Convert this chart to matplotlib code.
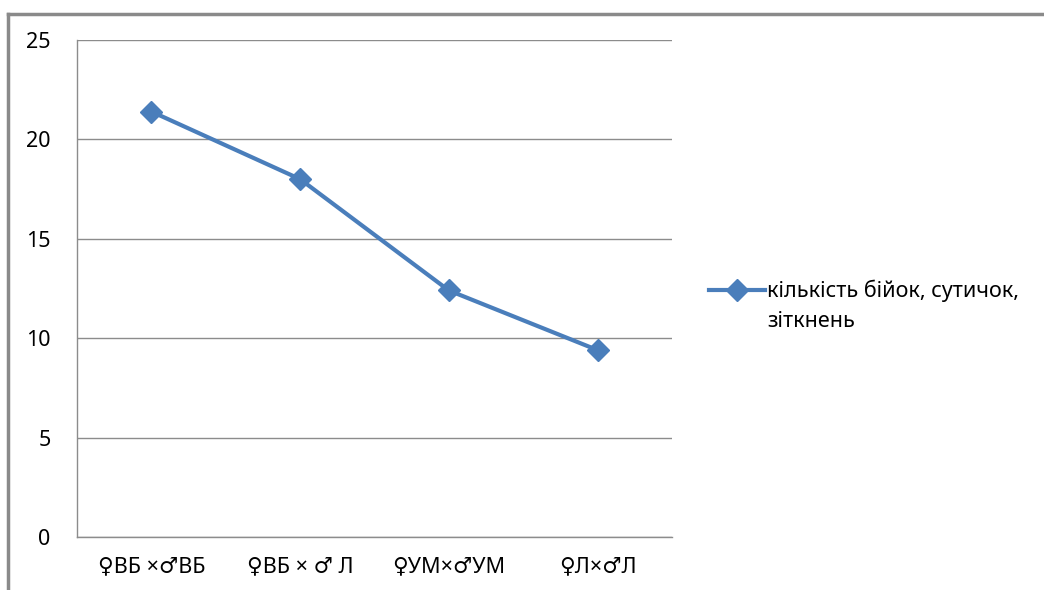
import matplotlib
matplotlib.use('Agg')
from matplotlib import pyplot as plt
from matplotlib.lines import Line2D

categories = ['♀ВБ ×♂ВБ', '♀ВБ × ♂ Л', '♀УМ×♂УМ', '♀Л×♂Л']
values = [21.4, 18.0, 12.4, 9.4]
series_name = 'кількість бійок, сутичок,'
series_name_2 = 'зіткнень'
yticks = [0, 5, 10, 15, 20, 25]

plt.rcParams['font.family'] = ['Noto Sans', 'DejaVu Sans']
blue = '#4A7EBB'
grid_gray = '#8C8C8C'

fig = plt.figure(figsize=(10.44, 5.90), dpi=100)
ax = fig.add_axes([77/1044, 53/590, 595/1044, 497/590])

x = list(range(len(categories)))
ax.plot(x, values, color=blue, lw=3.0, marker='D', ms=11, mec=blue, mfc=blue,
        label=series_name)

ax.set_xlim(-0.5, len(categories) - 0.5)
ax.set_ylim(0, 25)
ax.set_yticks(yticks)
ax.set_xticks(x)
ax.set_xticklabels(categories)
ax.yaxis.grid(True, color=grid_gray, lw=1)
ax.set_axisbelow(True)
ax.tick_params(axis='both', length=0, labelsize=15.5, colors='black')
ax.tick_params(axis='y', pad=19)
ax.tick_params(axis='x', pad=14)
for s in ['top', 'right']:
    ax.spines[s].set_visible(False)
for s in ['left', 'bottom']:
    ax.spines[s].set_color(grid_gray)
    ax.spines[s].set_linewidth(1)

leg = ax.legend(loc='center left', bbox_to_anchor=(709/1044, 1 - 291/590),
                bbox_transform=fig.transFigure, frameon=False, fontsize=15.5,
                handlelength=2.6, handletextpad=0.1, borderaxespad=0,
                borderpad=0)

# second line of the legend label, placed under the first one
fig.canvas.draw()
tb = leg.get_texts()[0].get_window_extent()
fig.text(tb.x0 / 1044, (tb.y0 - 30) / 590, series_name_2, fontsize=15.5,
         va='bottom', ha='left')

# outer frame of the chart object
fig.add_artist(Line2D([8/1044, 1], [1 - 14/590] * 2, transform=fig.transFigure,
                      color='#8A8A8A', lw=2.5))
fig.add_artist(Line2D([8/1044] * 2, [0, 1 - 14/590], transform=fig.transFigure,
                      color='#8A8A8A', lw=2.5))

fig.savefig('out.png', dpi=100)
